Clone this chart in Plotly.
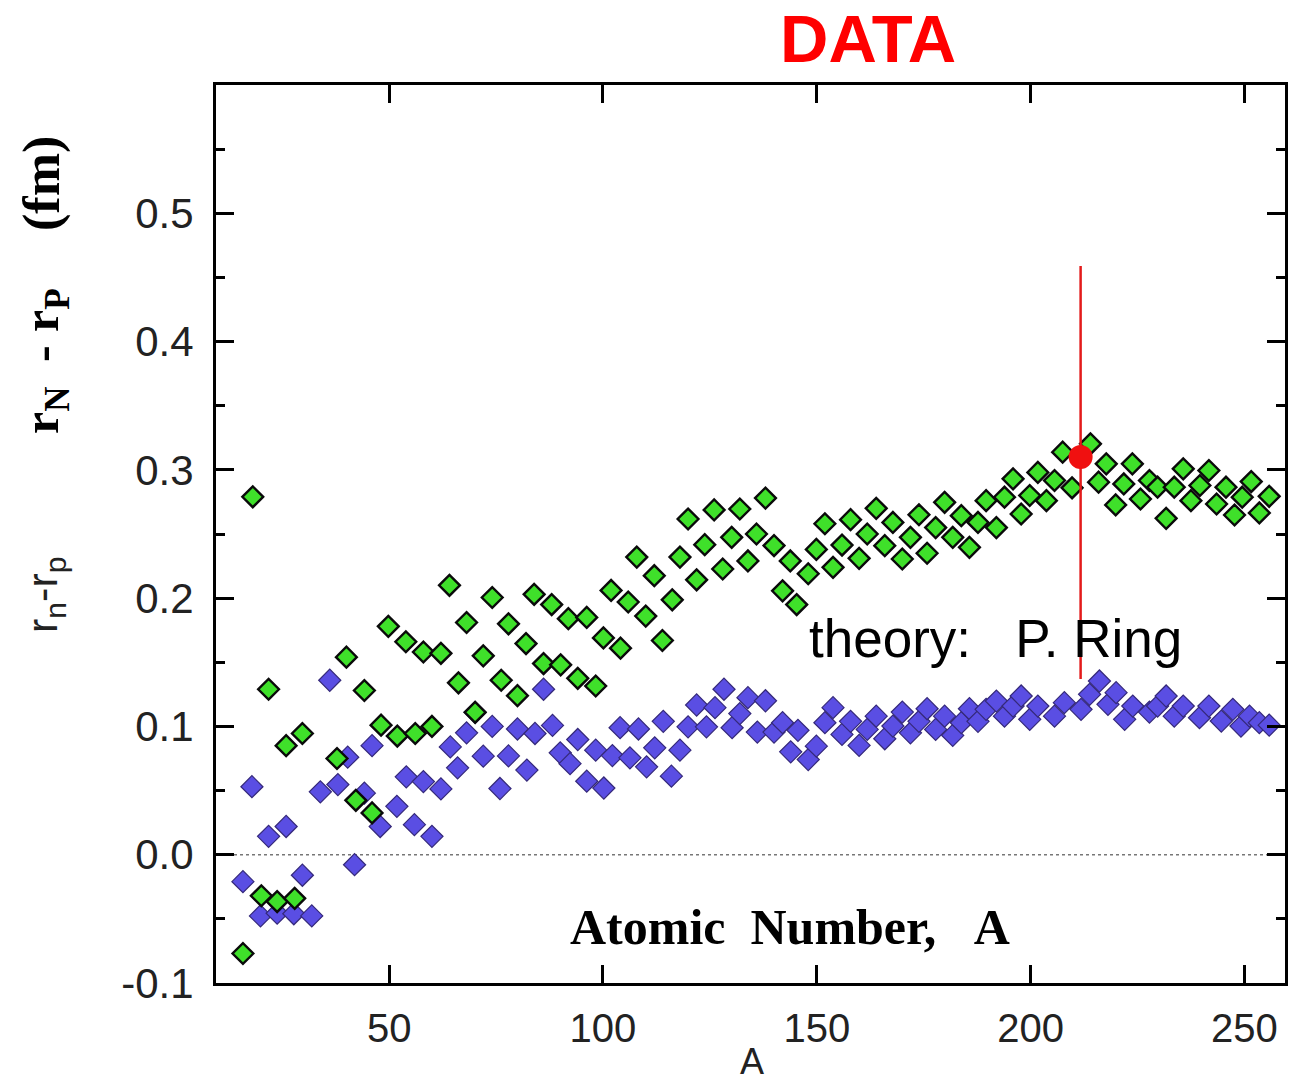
import plotly.graph_objects as go

# ---------------- data ----------------
green_A = [15.8, 18.1, 20.1, 21.8, 23.8, 25.9, 27.9, 29.7, 37.8, 40.0, 42.2, 44.2, 46.0, 48.1,
           49.8, 51.9, 53.9, 56.1, 58.0, 60.0, 62.1, 64.1, 66.2, 68.1, 70.1, 72.0, 74.1, 76.2,
           77.9, 80.0, 82.0, 83.9, 86.1, 88.0, 90.1, 91.9, 94.1, 96.2, 98.3, 100.1, 101.9, 104.1,
           105.9, 107.9, 110.0, 112.0, 113.9, 116.2, 118.0, 119.9, 121.9, 123.8, 126.0, 128.0,
           130.1, 132.0, 133.9, 135.9, 138.0, 140.0, 142.0, 143.8, 145.3, 148.0, 149.9, 151.9,
           153.8, 155.9, 157.9, 159.9, 161.8, 163.9, 165.9, 167.8, 170.0, 171.9, 173.9, 175.8,
           177.8, 179.9, 181.8, 183.8, 185.7, 187.7, 189.6, 192.0, 193.9, 195.9, 197.8, 199.8,
           201.7, 203.7, 205.6, 207.5, 209.7, 214.0, 215.9, 217.7, 219.9, 221.8, 223.8, 225.7,
           227.8, 229.7, 231.7, 233.6, 235.7, 237.5, 239.6, 241.7, 243.5, 245.7, 247.7, 249.5,
           251.6, 253.5, 255.8]
green_val = [-0.077, 0.279, -0.032, 0.129, -0.0365, 0.085, -0.034, 0.0945, 0.075, 0.154, 0.0424,
             0.128, 0.0326, 0.101, 0.178, 0.0925, 0.166, 0.0945, 0.158, 0.100, 0.157, 0.210, 0.134,
             0.181, 0.111, 0.155, 0.2005, 0.136, 0.180, 0.124, 0.1646, 0.203, 0.149, 0.195, 0.148,
             0.184, 0.1375, 0.185, 0.1315, 0.169, 0.206, 0.161, 0.197, 0.232, 0.186, 0.2175, 0.167,
             0.1987, 0.232, 0.2617, 0.2143, 0.2417, 0.2688, 0.2227, 0.2474, 0.2695, 0.229, 0.250,
             0.278, 0.241, 0.2057, 0.229, 0.195, 0.219, 0.238, 0.258, 0.224, 0.2414, 0.2612, 0.231,
             0.250, 0.270, 0.2409, 0.259, 0.2305, 0.2474, 0.265, 0.235, 0.255, 0.2747, 0.2474,
             0.2643, 0.2396, 0.259, 0.276, 0.255, 0.2787, 0.293, 0.2656, 0.280, 0.298, 0.276,
             0.2917, 0.3138, 0.286, 0.3203, 0.2904, 0.3047, 0.2727, 0.289, 0.3047, 0.2773, 0.2917,
             0.2865, 0.2622, 0.2865, 0.3008, 0.276, 0.2878, 0.2995, 0.2734, 0.2865, 0.2648, 0.2787,
             0.2909, 0.2664, 0.2794]

blue_A = [15.8, 17.9, 19.9, 21.8, 23.8, 25.9, 27.7, 29.7, 31.9, 33.9, 36.1, 38.0, 40.3, 41.9,
          44.2, 46.0, 47.9, 51.8, 54.0, 55.9, 58.0, 60.0, 62.1, 64.3, 66.0, 68.1, 70.1, 72.0,
          74.1, 75.9, 77.9, 80.0, 82.2, 84.1, 86.1, 88.2, 90.0, 92.3, 94.1, 96.2, 98.3, 100.2,
          102.2, 104.0, 106.3, 108.3, 110.2, 112.1, 114.1, 116.0, 118.0, 119.9, 121.9, 124.2,
          126.2, 128.3, 130.2, 132.0, 133.9, 136.1, 138.0, 140.0, 142.0, 143.9, 145.6, 148.0,
          149.9, 151.9, 153.8, 155.9, 157.9, 159.9, 161.8, 163.9, 165.9, 167.8, 170.0, 171.9,
          173.9, 175.8, 177.8, 179.9, 181.8, 183.8, 185.7, 187.7, 189.6, 192.0, 193.9, 195.9,
          197.8, 199.8, 201.7, 205.6, 207.9, 211.8, 213.8, 216.1, 218.1, 220.0, 222.0, 223.9,
          227.8, 229.7, 231.7, 233.6, 235.7, 239.5, 241.7, 244.6, 247.3, 249.2, 251.2, 253.5,
          255.8]
blue_val = [-0.021, 0.053, -0.0477, 0.0143, -0.0456, 0.022, -0.046, -0.016, -0.0477, 0.049,
            0.136, 0.0547, 0.076, -0.0078, 0.048, 0.085, 0.022, 0.0377, 0.0607, 0.0234, 0.057,
            0.0143, 0.0513, 0.084, 0.0677, 0.095, 0.111, 0.0768, 0.100, 0.0516, 0.077, 0.098,
            0.066, 0.0945, 0.129, 0.1008, 0.0794, 0.071, 0.0898, 0.0573, 0.0815, 0.052, 0.0773,
            0.099, 0.0755, 0.098, 0.0685, 0.0833, 0.104, 0.0612, 0.0815, 0.0997, 0.1167, 0.0997,
            0.1146, 0.129, 0.099, 0.110, 0.1224, 0.0956, 0.120, 0.0956, 0.1029, 0.0802, 0.097,
            0.0742, 0.0846, 0.1029, 0.1146, 0.0938, 0.104, 0.0852, 0.0977, 0.108, 0.0904, 0.1003,
            0.1112, 0.095, 0.104, 0.1138, 0.0977, 0.108, 0.093, 0.1029, 0.1138, 0.104, 0.1133,
            0.1198, 0.108, 0.1159, 0.1237, 0.1055, 0.1159, 0.108, 0.1185, 0.1133, 0.125, 0.1354,
            0.1172, 0.1263, 0.1055, 0.1159, 0.1112, 0.1159, 0.1237, 0.108, 0.1159, 0.1068, 0.1159,
            0.1042, 0.1133, 0.1003, 0.108, 0.1029, 0.101]

pb_A = [211.7]
pb_val = [0.310]
pb_err_plus = [0.149]
pb_err_minus = [0.173]

x_tickvals = [50, 100, 150, 200, 250]
y_tickvals = [-0.1, 0.0, 0.1, 0.2, 0.3, 0.4, 0.5]
y_ticktext = ["-0.1", "0.0", "0.1", "0.2", "0.3", "0.4", "0.5"]

# ---------------- layout helpers (pixel -> paper) ----------------
W, H = 1309, 1085
L, R, T, B = 216, 1285, 85, 983


def px(xp):
    return (xp - L) / (R - L)


def py(yp):
    return (B - yp) / (B - T)


NB = "\u00a0"

fig = go.Figure()

fig.add_trace(go.Scatter(
    x=blue_A, y=blue_val, mode="markers",
    marker=dict(symbol="diamond", size=17, color="#5a4ee3",
                line=dict(color="#35297a", width=1.2)),
    showlegend=False, hoverinfo="x+y"))

fig.add_trace(go.Scatter(
    x=green_A, y=green_val, mode="markers",
    marker=dict(symbol="diamond", size=16, color="#3fe02a",
                line=dict(color="#0a0a0a", width=2.4)),
    showlegend=False, hoverinfo="x+y"))

fig.add_trace(go.Scatter(
    x=pb_A, y=pb_val, mode="markers",
    marker=dict(symbol="circle", size=24, color="#f01010"),
    error_y=dict(type="data", symmetric=False, array=pb_err_plus,
                 arrayminus=pb_err_minus, color="#e31b1b", thickness=2.5, width=0),
    showlegend=False, hoverinfo="x+y"))

fig.add_shape(type="line", xref="paper", yref="y", x0=0, x1=1, y0=0, y1=0,
              line=dict(color="#777777", width=1.5, dash="dot"), layer="below")

x_tick_font = dict(family="Liberation Sans, Arial, sans-serif", size=40, color="#222222")
y_tick_font = dict(family="Liberation Sans, Arial, sans-serif", size=42, color="#222222")

fig.update_xaxes(
    range=[9.5, 259.5], tickmode="array", tickvals=x_tickvals,
    ticks="inside", ticklen=18, tickwidth=3, tickcolor="black",
    showline=True, linecolor="black", linewidth=3, mirror="ticks",
    showgrid=False, zeroline=False, tickfont=x_tick_font, ticklabelstandoff=8)

fig.update_yaxes(
    range=[-0.1, 0.6], tickmode="array", tickvals=y_tickvals, ticktext=y_ticktext,
    ticks="inside", ticklen=18, tickwidth=3, tickcolor="black",
    minor=dict(ticks="inside", ticklen=9, tickwidth=3, tickcolor="black",
               tick0=0, dtick=0.05),
    showline=True, linecolor="black", linewidth=3, mirror="ticks",
    showgrid=False, zeroline=False, tickfont=y_tick_font, ticklabelstandoff=11)

serif = "Liberation Serif, Times New Roman, serif"
sans = "Liberation Sans, Arial, sans-serif"

annotations = [
    dict(text="<b>DATA</b>", x=px(868), y=py(38), xref="paper", yref="paper",
         xanchor="center", yanchor="middle", showarrow=False,
         font=dict(family=sans, size=67, color="#ff0000")),
    dict(text="theory:" + NB * 3 + "P. Ring", x=px(807), y=py(639), xref="paper", yref="paper",
         xanchor="left", yanchor="middle", showarrow=False,
         font=dict(family=sans, size=53, color="black")),
    dict(text="<b>Atomic" + NB * 2 + "Number," + NB * 3 + "A</b>", x=px(790), y=py(927),
         xref="paper", yref="paper", xanchor="center", yanchor="middle", showarrow=False,
         font=dict(family=serif, size=50, color="black")),
    dict(text="A", x=px(752), y=py(1084), xref="paper", yref="paper",
         xanchor="center", yanchor="bottom", showarrow=False,
         font=dict(family=sans, size=36, color="#222222")),
    dict(text="<b>(fm)</b>", x=px(42), y=py(184), xref="paper", yref="paper", textangle=-90,
         xanchor="center", yanchor="middle", showarrow=False,
         font=dict(family=serif, size=52, color="black")),
    dict(text="<b>r<sub>P</sub></b>", x=px(45), y=py(310), xref="paper", yref="paper", textangle=-90,
         xanchor="center", yanchor="middle", showarrow=False,
         font=dict(family=serif, size=50, color="black")),
    dict(text="<b>-</b>", x=px(42), y=py(354), xref="paper", yref="paper", textangle=-90,
         xanchor="center", yanchor="middle", showarrow=False,
         font=dict(family=serif, size=50, color="black")),
    dict(text="<b>r<sub>N</sub></b>", x=px(45), y=py(411), xref="paper", yref="paper", textangle=-90,
         xanchor="center", yanchor="middle", showarrow=False,
         font=dict(family=serif, size=50, color="black")),
    dict(text="r<sub>n</sub>-r<sub>p</sub>", x=px(45), y=py(595), xref="paper", yref="paper",
         textangle=-90, xanchor="center", yanchor="middle", showarrow=False,
         font=dict(family=sans, size=43, color="#222222")),
]

fig.update_layout(
    width=W, height=H, autosize=False,
    margin=dict(l=L, r=W - R, t=T, b=H - B, pad=0),
    paper_bgcolor="white", plot_bgcolor="white",
    annotations=annotations, showlegend=False)

fig.write_html("out.html")
